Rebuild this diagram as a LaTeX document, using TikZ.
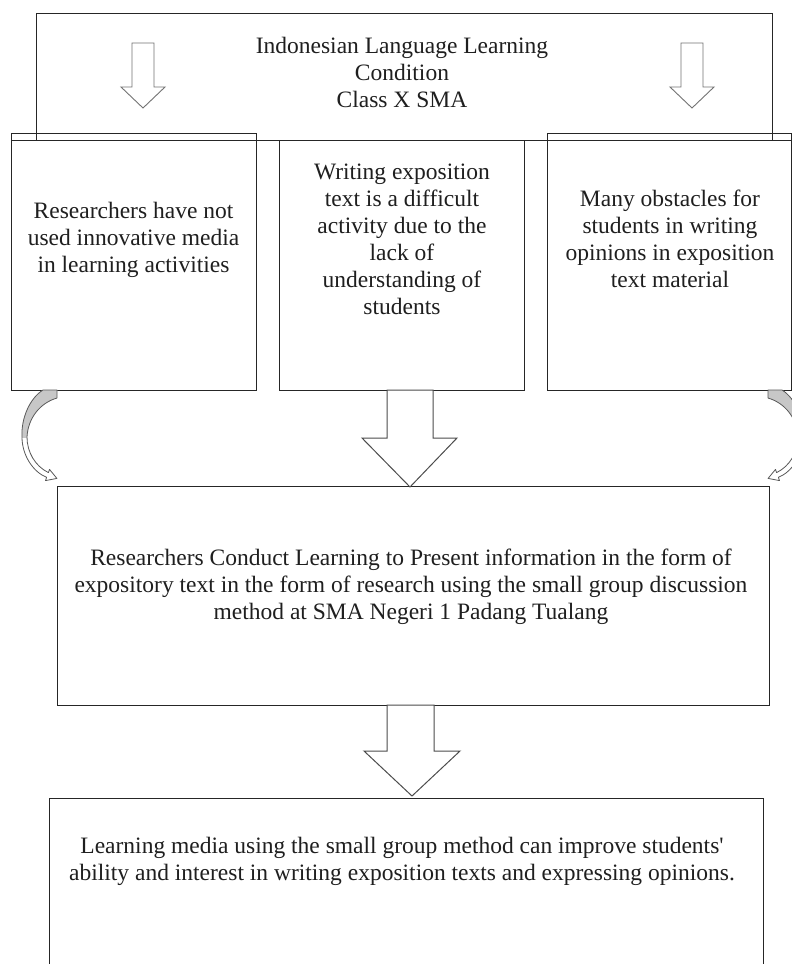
\documentclass[tikz,border=0pt]{standalone}
\usepackage{fontspec}
\setmainfont{Liberation Serif}
\begin{document}
\begin{tikzpicture}[x=1pt,y=-1pt,
  box/.style={draw=black!85, line width=1pt, inner sep=0pt, anchor=north west},
  txt/.style={align=center, font=\fontsize{23.5}{27}\selectfont, inner sep=0pt, text=black!88},
  blockarrow/.style={draw=black!70, line width=1pt, fill=white, line join=miter},
  smallarrow/.style={draw=black!55, line width=0.9pt, fill=white, line join=miter},
  curvline/.style={draw=black!65, line width=0.8pt, line join=round}]
\useasboundingbox (0,0) rectangle (792,964);
\fill[white] (0,0) rectangle (792,964);

% boxes
\node[box, minimum width=736pt, minimum height=127pt] (top) at (36,13) {};
\node[box, minimum width=245pt, minimum height=257pt] (lbox) at (11,133) {};
\node[box, minimum width=245pt, minimum height=250pt] (mbox) at (279,140) {};
\node[box, minimum width=244pt, minimum height=257pt] (rbox) at (547,133) {};
\draw[black!85, line width=1pt] (lbox.north west |- mbox.north) -- (rbox.north east |- mbox.north);
\node[box, minimum width=712pt, minimum height=219pt] (cbox) at (57,486) {};
\node[box, minimum width=714pt, minimum height=200pt] (bbox) at (49,798) {};

% texts
\node[txt] (ttop) at (402,72) {Indonesian Language Learning\\Condition\\Class X SMA};
\node[txt] (tl) at (133.5,240) {Researchers have not\\used innovative media\\in learning activities};
\node[txt] (tm) at (402,239.5) {Writing exposition\\text is a difficult\\activity due to the\\lack of\\understanding of\\students};
\node[txt] (tr) at (670,239) {Many obstacles for\\students in writing\\opinions in exposition\\text material};
\node[txt] (tc) at (411,587) {Researchers Conduct Learning to Present information in the form of\\expository text in the form of research using the small group discussion\\method at SMA Negeri 1 Padang Tualang};
\node[txt] (tb) at (402,861) {Learning media using the small group method can improve students\textquotesingle\\ability and interest in writing exposition texts and expressing opinions.};

% small arrows in top box
\draw[smallarrow] (132,43) -- (154,43) -- (154,87) -- (165,87) -- (143,108) -- (121,87) -- (132,87) -- cycle;
\draw[smallarrow] (681,43) -- (703,43) -- (703,87) -- (714,87) -- (692,108) -- (670,87) -- (681,87) -- cycle;

% big block arrows
\coordinate (a1) at (410,487);
\draw[blockarrow] (387,390) -- (433,390) -- (433,438) -- (457,438) -- (a1) -- (362,438) -- (387,438) -- cycle;
\coordinate (a2) at (412,796);
\draw[blockarrow] (387,705) -- (434,705) -- (434,751) -- (460,751) -- (a2) -- (364,751) -- (387,751) -- cycle;

% curved arrows
\def\cvarrowpath{(43,390) .. controls (30,398) and (21,418) .. (22,437) .. controls (22,455) and (33,472) .. (46.6,477.3) -- (45.5,480.6) -- (56.9,478.4) -- (49.5,469.4) -- (48.4,472.6) .. controls (35,466) and (27,452) .. (27,437) .. controls (28,418) and (40,403) .. (57,398) -- (57,390) -- cycle}
\foreach \sc/\sh in {1/0,-1/825}{
\begin{scope}[shift={(\sh,0)}, xscale=\sc]
  \fill[white] \cvarrowpath;
  \begin{scope}
    \clip (0,389) rectangle (100,437);
    \fill[black!22] \cvarrowpath;
  \end{scope}
  \draw[curvline] \cvarrowpath;
\end{scope}}
\end{tikzpicture}
\end{document}
